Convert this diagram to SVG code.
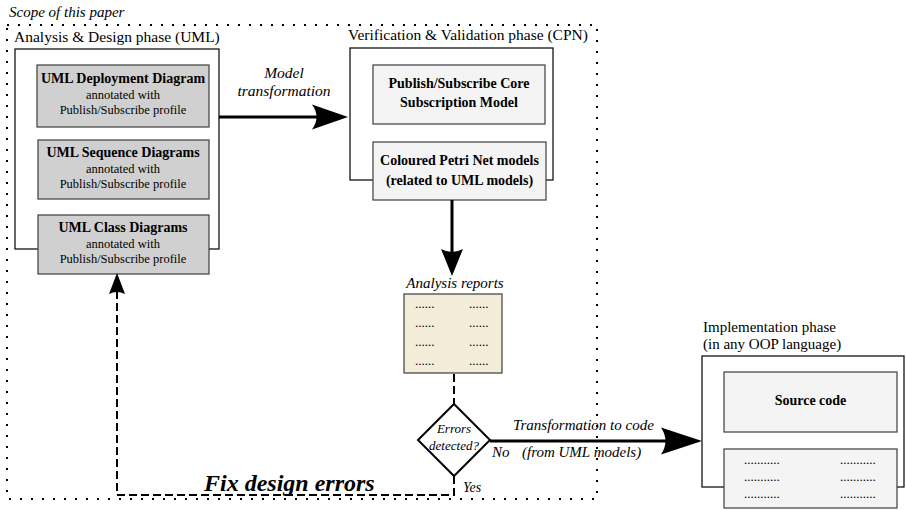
<svg xmlns="http://www.w3.org/2000/svg" width="906" height="510" viewBox="0 0 906 510">
<style>
text{font-family:"Liberation Serif","Times New Roman",serif;fill:#000}
.b{font-weight:bold;font-size:14px}
.r{font-size:12.5px}
.h{font-size:15.5px}
.i{font-style:italic;font-size:15px}
.c{text-anchor:middle}
.outer{fill:#fff;stroke:#000;stroke-width:1.2}
.gray{fill:#d0d0d0;stroke:#3c3c3c;stroke-width:1.2}
.light{fill:#f4f4f4;stroke:#3c3c3c;stroke-width:1.2}
.dots{font-size:13px;letter-spacing:0}
.solid{fill:none;stroke:#000;stroke-width:3}
.dash{fill:none;stroke:#000;stroke-width:2;stroke-dasharray:8 4}
.head{fill:#000;stroke:none}
</style>
<rect id="scope" x="7" y="25" width="590" height="474" fill="none" stroke="#000" stroke-width="2" stroke-dasharray="2 9"/>
<text x="9" y="17" class="i">Scope of this paper</text>

<g id="uml-phase">
<text x="14" y="42" class="h">Analysis &amp; Design phase (UML)</text>
<rect class="outer" x="15" y="49" width="204" height="200"/>
</g>
<g id="deployment">
<rect class="gray" x="37" y="65" width="172" height="62"/>
<text x="123" y="83" class="b c">UML Deployment Diagram</text>
<text x="123" y="99" class="r c">annotated with</text>
<text x="123" y="114" class="r c">Publish/Subscribe profile</text>
</g>
<g id="sequence">
<rect class="gray" x="38" y="140" width="171" height="59"/>
<text x="123" y="157" class="b c">UML Sequence Diagrams</text>
<text x="123" y="173" class="r c">annotated with</text>
<text x="123" y="188" class="r c">Publish/Subscribe profile</text>
</g>
<g id="class">
<rect class="gray" x="38" y="215" width="171" height="59"/>
<text x="123" y="232" class="b c">UML Class Diagrams</text>
<text x="123" y="248" class="r c">annotated with</text>
<text x="123" y="263" class="r c">Publish/Subscribe profile</text>
</g>

<g id="cpn-phase">
<text x="348" y="40" class="h">Verification &amp; Validation phase (CPN)</text>
<rect class="outer" x="350" y="48" width="203" height="132"/>
</g>
<g id="core">
<rect class="light" x="373" y="65" width="172" height="59"/>
<text x="459" y="88" class="b c">Publish/Subscribe Core</text>
<text x="459" y="107" class="b c">Subscription Model</text>
</g>
<g id="cpn-models">
<rect class="light" x="373" y="142" width="173" height="58"/>
<text x="459.5" y="165" class="b c">Coloured Petri Net models</text>
<text x="459.5" y="185" class="b c">(related to UML models)</text>
</g>

<g id="reports">
<text x="455" y="288" class="i c">Analysis reports</text>
<rect x="404" y="294" width="98" height="79" fill="#f2ecd9" stroke="#3c3c3c" stroke-width="1.2"/>
<text x="415" y="308" class="dots">......</text>
<text x="469" y="308" class="dots">......</text>
<text x="415" y="327" class="dots">......</text>
<text x="469" y="327" class="dots">......</text>
<text x="415" y="346" class="dots">......</text>
<text x="469" y="346" class="dots">......</text>
<text x="415" y="365" class="dots">......</text>
<text x="469" y="365" class="dots">......</text>
</g>

<g id="decision">
<polygon points="454,404 490,440 454,476 418,440" fill="#fff" stroke="#000" stroke-width="2"/>
<text x="454" y="433" class="c" style="font-style:italic;font-size:13px">Errors</text>
<text x="454" y="450" class="c" style="font-style:italic;font-size:13px">detected?</text>
</g>

<g id="impl-phase">
<text x="703" y="332" style="font-size:15px">Implementation phase</text>
<text x="703" y="349" style="font-size:15px">(in any OOP language)</text>
<rect class="outer" x="702" y="356" width="202" height="131"/>
</g>
<g id="source">
<rect class="light" x="724" y="372" width="173" height="60"/>
<text x="810.5" y="405" class="b c">Source code</text>
</g>
<g id="code-lines">
<rect class="light" x="724" y="449" width="173" height="59"/>
<text x="744" y="464" class="dots">...........</text>
<text x="840" y="464" class="dots">...........</text>
<text x="744" y="481" class="dots">...........</text>
<text x="840" y="481" class="dots">...........</text>
<text x="744" y="498" class="dots">...........</text>
<text x="840" y="498" class="dots">...........</text>
</g>

<g id="connectors">
<line class="solid" x1="219" y1="117" x2="318" y2="117"/>
<path class="head" d="M348,117 L312,104.5 Q321,117 312,129.5 Z"/>
<text x="284" y="78" class="c" style="font-style:italic;font-size:15.5px">Model</text>
<text x="284" y="96" class="c" style="font-style:italic;font-size:15.5px">transformation</text>

<line class="solid" x1="452" y1="200" x2="452" y2="255"/>
<path class="head" d="M452,276 L441,249 Q452,255 463,249 Z"/>

<line class="dash" x1="454" y1="374" x2="454" y2="404"/>

<line class="solid" x1="490" y1="441" x2="668" y2="441"/>
<path class="head" d="M702,441 L661,427.5 Q670,441 661,454.5 Z"/>
<text x="513" y="430" class="i">Transformation to code</text>
<text x="522" y="457" class="i">(from UML models)</text>
<text x="492" y="457" class="i">No</text>

<polyline class="dash" points="454,476 454,495 117,495 117,290"/>
<path class="head" d="M117,273 L109,294 Q117,290 125,294 Z"/>
<text x="463" y="492" style="font-style:italic;font-size:14px">Yes</text>
<text x="204" y="491" style="font-style:italic;font-weight:bold;font-size:24px">Fix design errors</text>
</g>
</svg>
